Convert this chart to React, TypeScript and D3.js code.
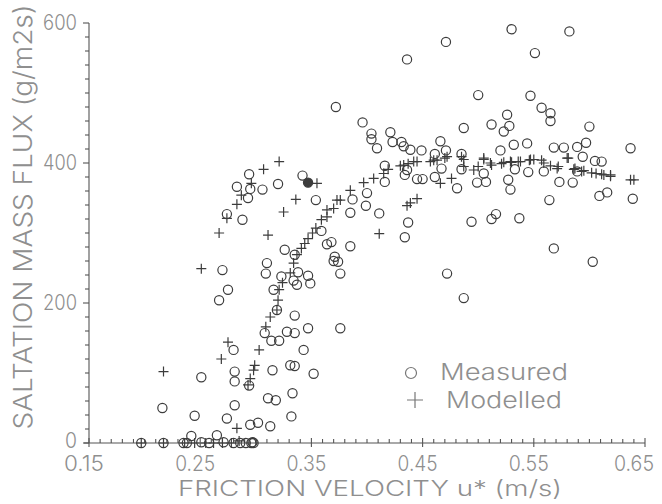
import React from 'react';
import * as d3 from 'd3';

// measured saltation flux [u*, Q]
const measured: [number, number][] = [
  [0.294, 384], [0.283, 366], [0.295, 363], [0.306, 362], [0.293, 350], [0.32, 370], [0.342, 382],
  [0.354, 347], [0.274, 327], [0.288, 319], [0.359, 303], [0.364, 284], [0.368, 287], [0.326, 276],
  [0.335, 269], [0.31, 257], [0.309, 242], [0.27, 247], [0.323, 238], [0.338, 244], [0.347, 239],
  [0.334, 232], [0.337, 226], [0.349, 228], [0.275, 219], [0.316, 219], [0.267, 204], [0.319, 190],
  [0.335, 182], [0.347, 164], [0.308, 157], [0.314, 146], [0.321, 146], [0.328, 159], [0.335, 157],
  [0.28, 133], [0.343, 133], [0.251, 94], [0.281, 102], [0.281, 88], [0.294, 82], [0.315, 104],
  [0.331, 111], [0.335, 110], [0.352, 99], [0.311, 64], [0.318, 61], [0.333, 71], [0.281, 54],
  [0.245, 39], [0.274, 35], [0.295, 26], [0.302, 29], [0.313, 24], [0.332, 38], [0.216, 50],
  [0.197, 0], [0.217, 0], [0.235, 0], [0.238, 0], [0.242, 10], [0.251, 1], [0.258, 0], [0.265, 11],
  [0.271, 1], [0.28, 0], [0.286, 0], [0.291, 0], [0.296, 0], [0.297, 1], [0.298, 0],
  [0.372, 480], [0.396, 458], [0.5, 497], [0.487, 450], [0.404, 442], [0.404, 434], [0.409, 421],
  [0.421, 444], [0.423, 430], [0.431, 430], [0.433, 424], [0.439, 419], [0.449, 418], [0.466, 431],
  [0.471, 418], [0.461, 413], [0.485, 413], [0.416, 396], [0.416, 373], [0.434, 383], [0.436, 390],
  [0.445, 377], [0.45, 377], [0.461, 380], [0.467, 392], [0.481, 364], [0.485, 391], [0.499, 372],
  [0.4, 357], [0.387, 348], [0.399, 339], [0.385, 329], [0.411, 328], [0.437, 315], [0.434, 294],
  [0.494, 316], [0.385, 281], [0.371, 266], [0.436, 548], [0.471, 573], [0.37, 260], [0.374, 259],
  [0.376, 242], [0.472, 242], [0.487, 207], [0.376, 164],
  [0.53, 591], [0.582, 588], [0.551, 557], [0.547, 496], [0.557, 479], [0.565, 471], [0.565, 460],
  [0.6, 452], [0.526, 469], [0.512, 455], [0.528, 453], [0.523, 445], [0.637, 421], [0.532, 426],
  [0.544, 428], [0.568, 422], [0.577, 422], [0.589, 423], [0.597, 429], [0.52, 418], [0.594, 409],
  [0.605, 403], [0.611, 402], [0.505, 385], [0.507, 373], [0.533, 391], [0.545, 387], [0.559, 388],
  [0.589, 388], [0.527, 376], [0.529, 362], [0.573, 373], [0.585, 372], [0.609, 353], [0.616, 358],
  [0.564, 347], [0.639, 349], [0.512, 320], [0.516, 327], [0.537, 321], [0.568, 278], [0.603, 259],
];

// the one filled circle
const highlighted: [number, number][] = [[0.347, 372]];

// modelled flux [u*, Q]
const modelled: [number, number][] = [
  [0.197, 0], [0.217, 0], [0.236, 0], [0.245, 0], [0.255, 0], [0.262, 0], [0.27, 0], [0.278, 0], [0.285, 3],
  [0.217, 102], [0.251, 249], [0.269, 120], [0.275, 144], [0.283, 21], [0.267, 300], [0.274, 321],
  [0.283, 341], [0.287, 354], [0.296, 371], [0.307, 391], [0.321, 402], [0.311, 297], [0.325, 330],
  [0.336, 348], [0.355, 371],
  [0.293, 83], [0.295, 92], [0.298, 104], [0.299, 111], [0.303, 133], [0.309, 166], [0.313, 180],
  [0.319, 190], [0.32, 204], [0.321, 219], [0.324, 229], [0.331, 243], [0.334, 257], [0.337, 269],
  [0.341, 278], [0.344, 285], [0.347, 292], [0.351, 300], [0.354, 307], [0.359, 319], [0.364, 323],
  [0.364, 333], [0.37, 335], [0.373, 347], [0.376, 347], [0.385, 361], [0.397, 372], [0.406, 378],
  [0.415, 385], [0.419, 391], [0.43, 396], [0.433, 397], [0.437, 399], [0.442, 402], [0.445, 402],
  [0.457, 402], [0.46, 404], [0.463, 404], [0.47, 407], [0.472, 409], [0.485, 409], [0.487, 405],
  [0.487, 395], [0.496, 390], [0.5, 395], [0.505, 405], [0.505, 407], [0.511, 400], [0.512, 397],
  [0.521, 399], [0.523, 401], [0.529, 402], [0.53, 401], [0.536, 402], [0.538, 402], [0.546, 404],
  [0.547, 405], [0.55, 405], [0.557, 404], [0.559, 400], [0.565, 396], [0.571, 392], [0.572, 395],
  [0.58, 407], [0.581, 407], [0.586, 391], [0.587, 392], [0.593, 388], [0.595, 389], [0.602, 386],
  [0.606, 385], [0.611, 384], [0.613, 383], [0.619, 383], [0.619, 381], [0.637, 376], [0.64, 376],
  [0.436, 339], [0.439, 343], [0.445, 349], [0.411, 299], [0.466, 371], [0.476, 378],
];

const xTicks = [0.15, 0.25, 0.35, 0.45, 0.55, 0.65];
const yTicks = [0, 200, 400, 600];

const font = "Inter, 'Open Sans', 'DejaVu Sans', sans-serif";
const textColor = '#8f8f8f';
const markColor = '#3c3c3c';

export default function App() {
  const x = d3.scaleLinear().domain([0.15, 0.65]).range([89, 645]);
  const y = d3.scaleLinear().domain([0, 600]).range([443, 23]);

  const xMinor = d3.range(0, 51).map(i => 0.15 + i * 0.01);
  const yMinor = d3.range(0, 31).map(i => i * 20);

  return (
    <svg width={662} height={504} style={{ position: 'absolute', left: 0, top: 0, background: '#fff' }}>
      {/* axes */}
      <g stroke="#555" strokeWidth={1.1} fill="none">
        <line x1={x(0.15)} x2={x(0.15)} y1={y(600)} y2={y(0)} />
        <line x1={x(0.15) - 5} x2={x(0.65)} y1={y(0)} y2={y(0)} />
        {yMinor.map(v => (
          <line key={'yt' + v} x1={x(0.15) - (v % 200 === 0 ? 6 : 4)} x2={x(0.15)} y1={y(v)} y2={y(v)} />
        ))}
        {xMinor.map((v, i) => (
          <line key={'xt' + i} x1={x(v)} x2={x(v)} y1={y(0) - (i % 10 === 0 ? 5 : 4)} y2={y(0) + (i % 10 === 0 ? 4 : 0)} />
        ))}
      </g>

      {/* tick labels */}
      <g fill={textColor} fontFamily={font} fontWeight={300}>
        {xTicks.map(v => (
          <text key={'xl' + v} x={v === 0.65 ? 654 : x(v) - 5} y={471} fontSize={22}
            textAnchor={v === 0.65 ? 'end' : 'middle'}
            textLength={40} lengthAdjust="spacingAndGlyphs">{v.toFixed(2)}</text>
        ))}
        {yTicks.map(v => (
          <text key={'yl' + v} x={77} y={v === 0 ? y(v) + 5 : y(v) + 7} fontSize={21} textAnchor="end"
            textLength={v === 0 ? 12 : 34} lengthAdjust="spacingAndGlyphs">{v}</text>
        ))}
      </g>

      {/* axis titles */}
      <text x={370} y={496} fill={textColor} fontFamily={font} fontWeight={300} fontSize={22} textAnchor="middle"
        textLength={384} lengthAdjust="spacingAndGlyphs">FRICTION VELOCITY u* (m/s)</text>
      <text transform="translate(32,217) rotate(-90)" fill={textColor} fontFamily={font} fontWeight={300} fontSize={26}
        textAnchor="middle" textLength={425} lengthAdjust="spacingAndGlyphs">SALTATION MASS FLUX (g/m2s)</text>

      {/* measured */}
      <g fill="none" stroke={markColor} strokeWidth={1.2}>
        {measured.map((d, i) => (
          <circle key={'m' + i} cx={x(d[0])} cy={y(d[1])} r={4.6} />
        ))}
      </g>
      <g fill={markColor} stroke={markColor} strokeWidth={1.2}>
        {highlighted.map((d, i) => (
          <circle key={'h' + i} cx={x(d[0])} cy={y(d[1])} r={4.6} />
        ))}
      </g>

      {/* modelled */}
      <g stroke={markColor} strokeWidth={1.2}>
        {modelled.map((d, i) => {
          const cx = x(d[0]);
          const cy = y(d[1]);
          return (
            <path key={'p' + i} d={`M${cx - 5},${cy}H${cx + 5}M${cx},${cy - 5}V${cy + 5}`} />
          );
        })}
      </g>

      {/* legend */}
      <g fontFamily={font} fontWeight={300} fill={textColor}>
        <circle cx={411} cy={373} r={5.5} fill="none" stroke="#777" strokeWidth={1.2} />
        <text x={440} y={380} fontSize={23} textLength={128} lengthAdjust="spacingAndGlyphs">Measured</text>
        <path d="M407,400H423M415,392V408" stroke="#777" strokeWidth={1.2} />
        <text x={446} y={408} fontSize={23} textLength={116} lengthAdjust="spacingAndGlyphs">Modelled</text>
      </g>
    </svg>
  );
}
